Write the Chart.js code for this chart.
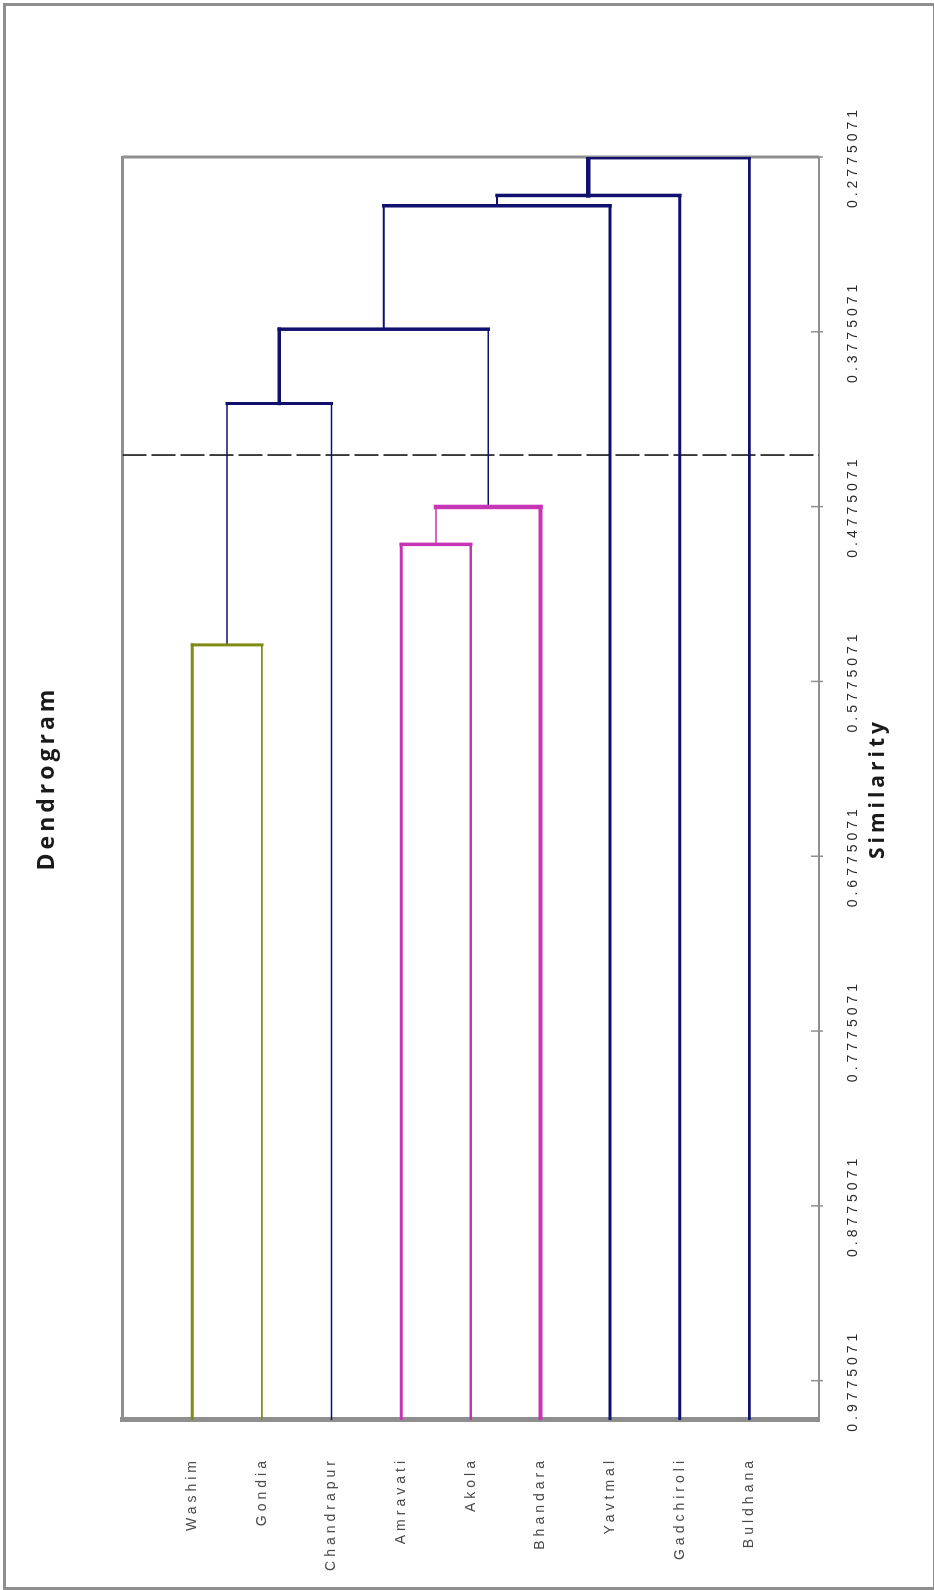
<!DOCTYPE html>
<html>
<head>
<meta charset="utf-8">
<title>Dendrogram</title>
<script src="https://cdn.jsdelivr.net/npm/chart.js@4.4.1/dist/chart.umd.min.js"></script>
<style>
  html, body { margin: 0; padding: 0; background: #fff; overflow: hidden; }
  #page { position: relative; width: 934px; height: 1590px; }
  /* the chart is drawn lying down and turned upright, like the original export */
  #chart { position: absolute; left: 0; top: 0; transform-origin: 0 0; transform: translateY(1590px) rotate(-90deg); }
  #frame { position: absolute; left: 3px; top: 3px; width: 931px; height: 1587px; box-sizing: border-box;
           border: 3px solid #8e8e8e; border-right-width: 1px; pointer-events: none; }
</style>
</head>
<body>
<div id="page">
  <canvas id="chart" width="1590" height="934"></canvas>
  <div id="frame"></div>
</div>
<script>
(function () {
  "use strict";

  var LEAVES = ["Washim", "Gondia", "Chandrapur", "Amravati", "Akola", "Bhandara", "Yavtmal", "Gadchiroli", "Buldhana"];
  // merge k builds node 9+k from nodes MERGE_A[k] and MERGE_B[k] at similarity MERGE_SIM[k]
  var MERGE_A = [0, 9, 3, 11, 10, 13, 14, 15];
  var MERGE_B = [1, 2, 4, 5, 12, 6, 7, 8];
  var MERGE_SIM = [0.5566, 0.4185, 0.4991, 0.4777, 0.3760, 0.3054, 0.2995, 0.2779];
  var LEAF_SIM = 1.0;
  var CUT_SIM = 0.448;

  var SIM_MIN = 0.2775071, SIM_MAX = 1.0;
  var SIM_TICKS = [0.2775071, 0.3775071, 0.4775071, 0.5775071, 0.6775071, 0.7775071, 0.8775071, 0.9775071];
  var SIM_TICK_LABELS = ["0.2775071", "0.3775071", "0.4775071", "0.5775071", "0.6775071", "0.7775071", "0.8775071", "0.9775071"];

  var NAVY = "#10106e", PINK = "#c535b6", OLIVE = "#7e8b14", GRAY = "#8f8f8f";
  // leg rising from each node (leaves 0-8, merges 9-15)
  var LEG_COLOR = [OLIVE, OLIVE, NAVY, PINK, PINK, PINK, NAVY, NAVY, NAVY, NAVY, NAVY, PINK, NAVY, NAVY, NAVY, NAVY];
  var LEG_WIDTH = [3, 1.6, 1.5, 3, 2.6, 4, 3, 3, 2.6, 1.5, 3.5, 1.5, 1.5, 2, 2, 4.5];
  // horizontal bar of each merge
  var BAR_COLOR = [OLIVE, NAVY, PINK, PINK, NAVY, NAVY, NAVY, NAVY];
  var BAR_WIDTH = [3, 3, 3.5, 4.5, 3.5, 3.5, 3.5, 3.5];

  function segment(points, color, width, dash) {
    return {
      data: points,
      showLine: true,
      borderColor: color,
      borderWidth: width,
      borderCapStyle: dash ? "butt" : "square",
      borderDash: dash || [],
      pointRadius: 0,
      fill: false
    };
  }

  function buildDatasets() {
    var pos = LEAVES.map(function (_, i) { return i + 1; });
    var sim = LEAVES.map(function () { return LEAF_SIM; });
    var parent = [];
    MERGE_A.forEach(function (a, k) {
      var b = MERGE_B[k], id = LEAVES.length + k;
      pos.push((pos[a] + pos[b]) / 2);
      sim.push(MERGE_SIM[k]);
      parent[a] = id;
      parent[b] = id;
    });

    var out = [];
    MERGE_A.forEach(function (a, k) {
      out.push(segment([{ x: MERGE_SIM[k], y: pos[a] }, { x: MERGE_SIM[k], y: pos[MERGE_B[k]] }], BAR_COLOR[k], BAR_WIDTH[k]));
    });
    parent.forEach(function (p, n) {
      out.push(segment([{ x: sim[n], y: pos[n] }, { x: sim[p], y: pos[n] }], LEG_COLOR[n], LEG_WIDTH[n]));
    });
    out.push(segment([{ x: CUT_SIM, y: 0 }, { x: CUT_SIM, y: LEAVES.length + 1 }], "#151515", 1.6, [24, 5]));
    return out;
  }

  var spacing = {
    id: "spacing",
    beforeUpdate: function (c) { c.ctx.letterSpacing = "4px"; },
    beforeDraw: function (c) { c.ctx.letterSpacing = "4px"; }
  };

  // top and right edges of the plot box, and the tick marks crossing the similarity axis
  var frame = {
    id: "frame",
    beforeDatasetsDraw: function (c) {
      var a = c.chartArea, ctx = c.ctx, xs = c.scales.x;
      ctx.save();
      ctx.strokeStyle = GRAY;
      ctx.lineWidth = 3;
      ctx.beginPath(); ctx.moveTo(a.left, a.top); ctx.lineTo(a.right + 1, a.top); ctx.stroke();
      ctx.beginPath(); ctx.moveTo(a.right, a.top); ctx.lineTo(a.right, a.bottom); ctx.stroke();
      ctx.lineWidth = 1.5;
      xs.ticks.forEach(function (t) {
        var px = xs.getPixelForValue(t.value);
        ctx.beginPath(); ctx.moveTo(px, a.bottom - 8); ctx.lineTo(px, a.bottom + 4); ctx.stroke();
      });
      ctx.restore();
    }
  };

  new Chart(document.getElementById("chart"), {
    type: "scatter",
    data: { datasets: buildDatasets() },
    options: {
      responsive: false,
      animation: false,
      events: [],
      // negative right padding only shifts the full-width title box so it sits where the original title did
      layout: { padding: { left: 0, right: -34, top: 0, bottom: 0 } },
      plugins: {
        legend: { display: false },
        tooltip: { enabled: false },
        title: {
          display: true,
          text: "Dendrogram",
          color: "#1a1a1a",
          font: { family: "Open Sans", size: 23, weight: "bold" },
          padding: { top: 34, bottom: 61 }
        }
      },
      scales: {
        x: {
          type: "linear",
          position: "bottom",
          reverse: true,
          min: SIM_MIN,
          max: SIM_MAX,
          afterBuildTicks: function (s) { s.ticks = SIM_TICKS.map(function (v) { return { value: v }; }); },
          afterFit: function (s) { s.height = 115; },
          grid: { display: false },
          border: { display: true, color: GRAY, width: 2 },
          ticks: {
            autoSkip: false, maxRotation: 0, minRotation: 0, padding: 18,
            color: "#2a2a2a",
            font: { family: "Liberation Sans", size: 14 },
            callback: function (v, i) { return SIM_TICK_LABELS[i]; }
          },
          title: {
            display: true,
            text: "Similarity",
            color: "#1a1a1a",
            font: { family: "Open Sans", size: 21, weight: "bold" },
            padding: { top: 0, bottom: 43 }
          }
        },
        y: {
          type: "linear",
          position: "left",
          reverse: true,
          min: 0,
          max: LEAVES.length + 1,
          afterBuildTicks: function (s) { s.ticks = LEAVES.map(function (_, i) { return { value: i + 1 }; }); },
          afterFit: function (s) { s.width = 170; },
          grid: { display: false },
          border: { display: true, color: GRAY, width: 5 },
          ticks: {
            autoSkip: false, padding: 29,
            color: "#4a4a4a",
            font: { family: "Liberation Sans", size: 14 },
            callback: function (v, i) { return LEAVES[i]; }
          }
        },
        yr: {
          type: "linear",
          position: "right",
          display: true,
          grid: { display: false },
          border: { display: false },
          ticks: { display: false },
          afterFit: function (s) { s.width = 191; }
        }
      }
    },
    plugins: [spacing, frame]
  });
})();
</script>
</body>
</html>
